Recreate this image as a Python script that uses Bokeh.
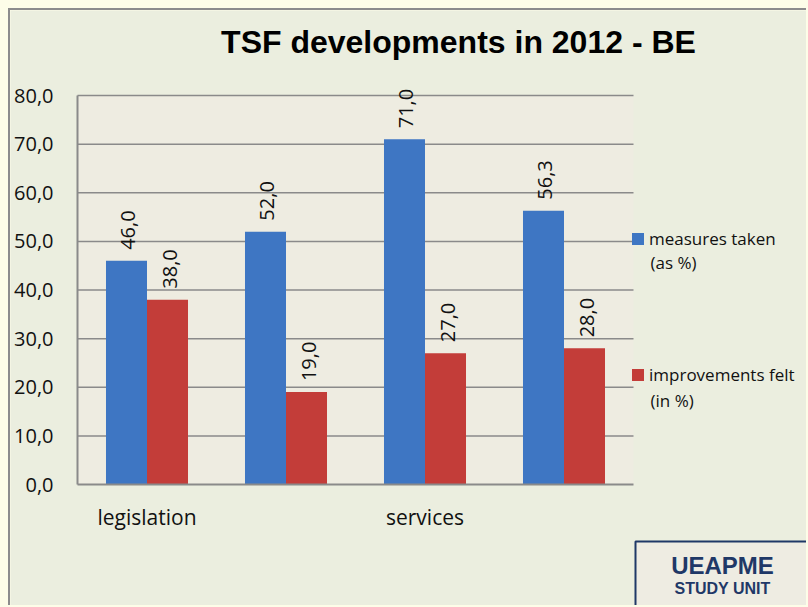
import numpy as np
from bokeh.plotting import figure
from bokeh.models import (ColumnDataSource, Range1d, FixedTicker, Label, Legend, LegendItem,
                          BoxAnnotation)
from bokeh.core.properties import value
from bokeh.embed import file_html
from bokeh.resources import INLINE

# ---- data ----
categories = ["legislation", "", "services", ""]
measures_taken = [46.0, 52.0, 71.0, 56.3]
improvements_felt = [38.0, 19.0, 27.0, 28.0]
measures_labels = ["46,0", "52,0", "71,0", "56,3"]
improvements_labels = ["38,0", "19,0", "27,0", "28,0"]
y_ticks = [0, 10, 20, 30, 40, 50, 60, 70, 80]
y_tick_labels = ["0,0", "10,0", "20,0", "30,0", "40,0", "50,0", "60,0", "70,0", "80,0"]
series_names = ["measures taken", "improvements felt"]
series_units = ["(as %)", "(in %)"]
title_text = "TSF developments in 2012 - BE"

FONT = "Open Sans"
BLUE = "#3E76C3"
RED = "#C33D39"
NAVY = "#1F3867"
BW = 0.295

# ---- layout (canvas pixels) ----
W, H = 798, 597
PL, PR, PT, PB = 67, 623, 85, 474      # plot-area edges inside the canvas
X0, X1 = 0.5, len(categories) + 0.5
Y0, Y1 = y_ticks[0], y_ticks[-1]
sx = (PR - PL) / (X1 - X0)
sy = (PB - PT) / (Y1 - Y0)
x_range = Range1d(X0 - PL / sx, X1 + (W - PR) / sx)
y_range = Range1d(Y0 - (H - PB) / sy, Y1 + PT / sy)

xpos = np.arange(1, len(categories) + 1)

p = figure(width=W, height=H, output_backend="svg", toolbar_location=None,
           x_range=x_range, y_range=y_range,
           min_border=0, min_border_left=0, min_border_right=0,
           min_border_top=0, min_border_bottom=0)
p.styles = {"border-left": "2px solid #8c8c8c", "border-top": "2px solid #8c8c8c"}
p.background_fill_color = "#EBEEDF"
p.border_fill_color = "#EBEEDF"
p.outline_line_color = None

# plot-area background
p.add_layout(BoxAnnotation(left=X0, right=X1, bottom=Y0, top=Y1,
                           fill_color="#EEECE1", fill_alpha=1, line_color=None,
                           level="underlay"))
# horizontal gridlines
grid_y = y_ticks[1:]
p.segment(x0=[X0] * len(grid_y), x1=[X1] * len(grid_y), y0=grid_y, y1=grid_y,
          line_color="#8a8a8a", line_width=1.5)

src = ColumnDataSource(dict(
    xb=xpos - BW / 2, xr=xpos + BW / 2,
    m=measures_taken, i=improvements_felt,
    ml=measures_labels, il=improvements_labels))

rb = p.vbar(x="xb", top="m", width=BW, source=src, fill_color=BLUE, line_color=None)
rr = p.vbar(x="xr", top="i", width=BW, source=src, fill_color=RED, line_color=None)

for xcol, ycol, lcol in (("xb", "m", "ml"), ("xr", "i", "il")):
    p.text(x=xcol, y=ycol, text=lcol, source=src, angle=np.pi / 2,
           text_align="left", text_baseline="middle", x_offset=2, y_offset=-11,
           text_font=value(FONT), text_font_size="20px", text_color="#111111")

# axes (fixed inside the frame)
p.xaxis.ticker = FixedTicker(ticks=list(xpos))
p.xaxis.major_label_overrides = {int(x): c for x, c in zip(xpos, categories)}
p.xaxis.fixed_location = Y0
p.xaxis.bounds = (X0, X1)
p.yaxis.ticker = FixedTicker(ticks=y_ticks)
p.yaxis.major_label_overrides = {t: l for t, l in zip(y_ticks, y_tick_labels)}
p.yaxis.fixed_location = X0
p.yaxis.bounds = (Y0, Y1)
for ax in (p.xaxis, p.yaxis):
    ax.axis_line_color = "#8a8a8a"
    ax.axis_line_width = 2
    ax.major_tick_line_color = None
    ax.minor_tick_line_color = None
    ax.major_tick_out = 0
    ax.major_tick_in = 0
    ax.major_label_text_font = FONT
    ax.major_label_text_color = "#111111"
p.yaxis.major_label_text_font_size = "20px"
p.yaxis.major_label_standoff = 24
p.xaxis.major_label_text_font_size = "21px"
p.xaxis.major_label_standoff = 18
p.xgrid.visible = False
p.ygrid.visible = False

# title
p.add_layout(Label(x=448, y=566, x_units="screen", y_units="screen", text=title_text,
                   text_align="center", text_baseline="middle",
                   text_font="Liberation Sans", text_font_style="bold",
                   text_font_size="32px", text_color="#000000"))

# legend
legend = Legend(items=[LegendItem(label=series_names[0], renderers=[rb]),
                       LegendItem(label=series_names[1], renderers=[rr])],
                location=(620, 221), orientation="vertical",
                background_fill_alpha=0, border_line_color=None,
                label_text_font=FONT, label_text_font_size="17px",
                label_text_color="#111111",
                glyph_width=15, glyph_height=15, spacing=113, padding=0, margin=0,
                label_standoff=4)
p.add_layout(legend, "center")
for unit, ypix in zip(series_units, (345, 207)):
    p.add_layout(Label(x=640, y=ypix, x_units="screen", y_units="screen", text=unit,
                       text_align="left", text_baseline="middle",
                       text_font=FONT, text_font_size="17px", text_color="#111111"))

# UEAPME box
p.add_layout(BoxAnnotation(left=625, right=820, top=66, bottom=-20,
                           left_units="screen", right_units="screen",
                           top_units="screen", bottom_units="screen",
                           fill_color="#EEECE2", fill_alpha=1,
                           line_color=NAVY, line_alpha=1, line_width=2))
p.add_layout(Label(x=712, y=42, x_units="screen", y_units="screen", text="UEAPME",
                   text_align="center", text_baseline="middle",
                   text_font="Liberation Sans", text_font_style="bold",
                   text_font_size="24px", text_color=NAVY))
p.add_layout(Label(x=712, y=19, x_units="screen", y_units="screen", text="STUDY UNIT",
                   text_align="center", text_baseline="middle",
                   text_font="Liberation Sans", text_font_style="bold",
                   text_font_size="16px", text_color=NAVY))

tmpl = ("{% block preamble %}<style>html, body {margin: 0 !important;} "
        "body {background: #FDFDE8 !important; padding: 8px 0 0 8px !important; "
        "box-sizing: border-box;}</style>{% endblock %}")
try:
    html = file_html(p, INLINE, "TSF developments", template=tmpl)
except Exception:
    html = file_html(p, INLINE, "TSF developments")
open("out.html", "w").write(html)
